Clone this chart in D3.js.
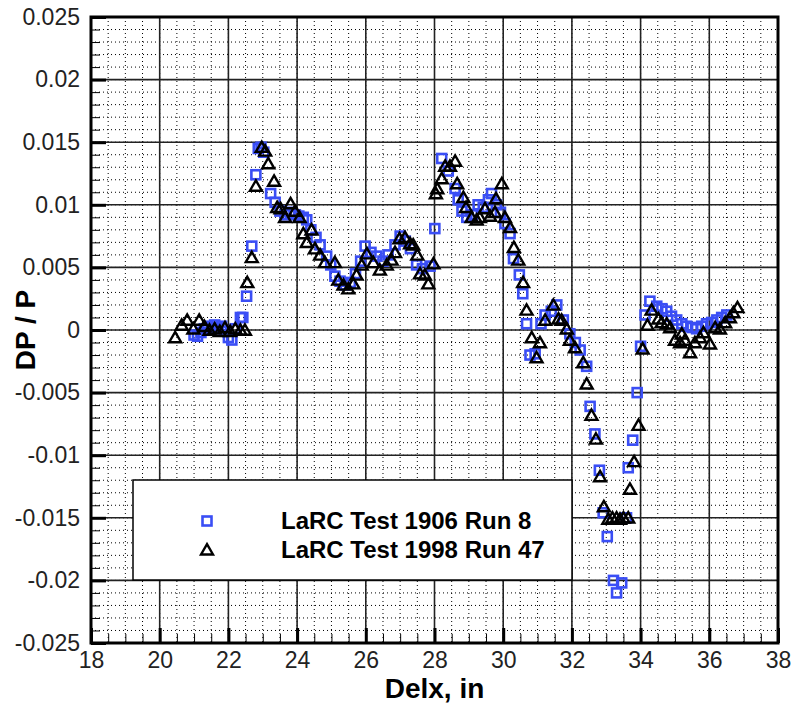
<!DOCTYPE html>
<meta charset="utf-8">
<style>
body { margin: 0; background: #fff; }
.tick text { font-family: "Liberation Sans", Arial, sans-serif; font-size: 23px; fill: #222; }
.axis path { display: none; }
.major line { stroke: #000; stroke-width: 3px; }
.minor line { stroke: #000; stroke-width: 1px; }
.title { font-family: "Liberation Sans", Arial, sans-serif; font-weight: bold; font-size: 28px; fill: #000; }
.legtext { font-family: "Liberation Sans", Arial, sans-serif; font-weight: bold; font-size: 24px; fill: #000; }
</style>
<body>
<script src="https://d3js.org/d3.v7.min.js"></script>
<script>

// LaRC Test 1906 Run 8 (blue squares)
var run8Delx = [21.00, 21.10, 21.20, 21.30, 21.40, 21.50, 21.60, 21.70, 21.80, 21.90, 22.00, 22.10, 22.20, 22.35, 22.42,
  22.53, 22.68, 22.80, 22.87, 22.95, 23.03, 23.23, 23.36, 23.50, 23.65, 23.80, 23.95, 24.05, 24.18, 24.28, 24.40,
  24.55, 24.67, 24.86, 24.98, 25.10, 25.25, 25.40, 25.55, 25.70, 25.85, 25.98, 26.15, 26.32, 26.50, 26.65, 26.85,
  27.00, 27.15, 27.30, 27.48, 27.65, 27.87, 28.01, 28.21, 28.40, 28.60, 28.69, 28.80, 28.94, 29.10, 29.27, 29.42,
  29.57, 29.66, 29.80, 29.92, 30.05, 30.20, 30.30, 30.47, 30.57, 30.68, 30.78, 30.93, 31.10, 31.22, 31.40, 31.56,
  31.75, 31.94, 32.10, 32.24, 32.43, 32.53, 32.67, 32.80, 32.91, 33.03, 33.21, 33.30, 33.45, 33.59, 33.64, 33.77,
  33.90, 34.00, 34.13, 34.27, 34.47, 34.62, 34.76, 34.90, 35.05, 35.20, 35.34, 35.50, 35.63, 35.78, 35.92, 36.07,
  36.22, 36.36, 36.51];
var run8DpP = [-0.0004, -0.0005, -0.0002, 0.0001, 0.0003, 0.0002, 0.0004, 0.0001, 0.0003, -0.0001, -0.0006, -0.0008, 0.0001, 0.0010, 0.0010,
  0.0027, 0.0067, 0.0124, 0.0145, 0.0146, 0.0142, 0.0109, 0.0102, 0.0095, 0.0092, 0.0094, 0.0092, 0.0091, 0.0090, 0.0088, 0.0080,
  0.0074, 0.0068, 0.0059, 0.0052, 0.0043, 0.0039, 0.0036, 0.0038, 0.0045, 0.0055, 0.0067, 0.0062, 0.0059, 0.0055, 0.0060, 0.0068,
  0.0075, 0.0071, 0.0065, 0.0052, 0.0049, 0.0051, 0.0081, 0.0137, 0.0127, 0.0113, 0.0104, 0.0095, 0.0090, 0.0092, 0.0100, 0.0098,
  0.0104, 0.0109, 0.0100, 0.0094, 0.0085, 0.0077, 0.0057, 0.0044, 0.0029, 0.0005, -0.0020, -0.0019, 0.0005, 0.0012, 0.0015, 0.0020,
  0.0008, -0.0003, -0.0010, -0.0016, -0.0029, -0.0061, -0.0083, -0.0112, -0.0146, -0.0165, -0.0200, -0.0210, -0.0202, -0.0150, -0.0110, -0.0088,
  -0.0050, -0.0013, 0.0012, 0.0023, 0.0019, 0.0017, 0.0015, 0.0011, 0.0008, 0.0005, 0.0003, 0.0002, 0.0001, 0.0003, 0.0005, 0.0006,
  0.0008, 0.0010, 0.0012];

// LaRC Test 1998 Run 47 (black triangles)
var run47Delx = [20.45, 20.64, 20.80, 20.98, 21.15, 21.30, 21.45, 21.60, 21.75, 21.90, 22.05, 22.20, 22.35, 22.48, 22.55,
  22.68, 22.80, 22.97, 23.07, 23.16, 23.33, 23.42, 23.52, 23.65, 23.81, 23.94, 24.07, 24.18, 24.28, 24.42, 24.52,
  24.67, 24.81, 25.10, 25.20, 25.35, 25.49, 25.64, 25.73, 25.88, 26.03, 26.22, 26.41, 26.61, 26.75, 26.85, 26.98,
  27.14, 27.29, 27.38, 27.50, 27.58, 27.72, 27.82, 27.97, 28.04, 28.08, 28.21, 28.31, 28.45, 28.60, 28.66, 28.84,
  28.92, 29.08, 29.23, 29.32, 29.47, 29.62, 29.76, 29.79, 29.96, 30.05, 30.20, 30.31, 30.44, 30.58, 30.68, 30.83,
  30.97, 31.07, 31.22, 31.46, 31.61, 31.70, 31.85, 31.94, 32.09, 32.33, 32.43, 32.57, 32.70, 32.82, 32.93, 33.06,
  33.18, 33.30, 33.40, 33.50, 33.64, 33.69, 33.81, 33.94, 34.06, 34.20, 34.32, 34.52, 34.61, 34.76, 34.86, 35.00,
  35.15, 35.20, 35.29, 35.44, 35.58, 35.73, 35.83, 36.02, 36.17, 36.31, 36.46, 36.60, 36.70, 36.82];
var run47DpP = [-0.0007, 0.0003, 0.0007, 0.0000, 0.0007, 0.0002, -0.0001, 0.0000, -0.0002, 0.0001, -0.0002, 0.0000, -0.0001, -0.0001, 0.0037,
  0.0057, 0.0114, 0.0145, 0.0142, 0.0132, 0.0118, 0.0097, 0.0096, 0.0089, 0.0100, 0.0094, 0.0089, 0.0076, 0.0069, 0.0079, 0.0064,
  0.0059, 0.0053, 0.0053, 0.0039, 0.0035, 0.0032, 0.0036, 0.0043, 0.0051, 0.0060, 0.0053, 0.0047, 0.0051, 0.0055, 0.0061, 0.0072,
  0.0073, 0.0068, 0.0067, 0.0059, 0.0044, 0.0043, 0.0036, 0.0052, 0.0108, 0.0112, 0.0120, 0.0130, 0.0130, 0.0134, 0.0116, 0.0105,
  0.0097, 0.0089, 0.0087, 0.0089, 0.0096, 0.0090, 0.0093, 0.0104, 0.0116, 0.0089, 0.0081, 0.0065, 0.0055, 0.0037, 0.0015, -0.0007,
  -0.0023, -0.0011, 0.0007, 0.0019, 0.0008, 0.0007, 0.0000, -0.0009, -0.0015, -0.0027, -0.0044, -0.0069, -0.0088, -0.0118, -0.0142, -0.0152,
  -0.0151, -0.0151, -0.0152, -0.0151, -0.0151, -0.0128, -0.0106, -0.0077, -0.0016, 0.0003, 0.0015, 0.0008, 0.0005, 0.0004, 0.0001, -0.0009,
  -0.0011, -0.0004, -0.0009, -0.0019, -0.0011, -0.0007, -0.0003, -0.0012, 0.0001, 0.0000, 0.0005, 0.0009, 0.0013, 0.0017];

var xTicks = [18, 20, 22, 24, 26, 28, 30, 32, 34, 36, 38];
var yTicks = [-0.025, -0.02, -0.015, -0.01, -0.005, 0, 0.005, 0.01, 0.015, 0.02, 0.025];
var legendLabels = ["LaRC Test 1906 Run 8", "LaRC Test 1998 Run 47"];

var blue = "#3a4ef5";

// plot box in page pixels
var plotL = 91, plotR = 778, plotT = 17, plotB = 643;

var svg = d3.select("body").append("svg")
    .attr("width", 792)
    .attr("height", 704);

var x = d3.scaleLinear().domain([18, 38]).range([plotL, plotR]);
var y = d3.scaleLinear().domain([-0.025, 0.025]).range([plotB, plotT]);

var xMinor = d3.range(18, 38.01, 0.5);
var yMinor = d3.range(-25, 25.1, 1).map(function(d) { return d / 1000; });

// dotted minor grid
svg.append("g").selectAll("line")
    .data(xMinor).enter().append("line")
    .attr("x1", function(d) { return x(d); }).attr("x2", function(d) { return x(d); })
    .attr("y1", plotT).attr("y2", plotB)
    .attr("stroke", "#000").attr("stroke-width", 1).attr("stroke-dasharray", "1,3");
svg.append("g").selectAll("line")
    .data(yMinor).enter().append("line")
    .attr("y1", function(d) { return y(d); }).attr("y2", function(d) { return y(d); })
    .attr("x1", plotL).attr("x2", plotR)
    .attr("stroke", "#000").attr("stroke-width", 1).attr("stroke-dasharray", "1,3");

// solid major grid
svg.append("g").selectAll("line")
    .data(xTicks).enter().append("line")
    .attr("x1", function(d) { return x(d); }).attr("x2", function(d) { return x(d); })
    .attr("y1", plotT).attr("y2", plotB)
    .attr("stroke", "#222").attr("stroke-width", 1.6);
svg.append("g").selectAll("line")
    .data(yTicks).enter().append("line")
    .attr("y1", function(d) { return y(d); }).attr("y2", function(d) { return y(d); })
    .attr("x1", plotL).attr("x2", plotR)
    .attr("stroke", "#222").attr("stroke-width", 1.6);

// legend box (drawn over grid)
svg.append("rect")
    .attr("x", 133).attr("y", 480).attr("width", 439).attr("height", 100)
    .attr("fill", "#fff").attr("stroke", "#000").attr("stroke-width", 1.5);

// axes: ticks point inward
svg.append("g").attr("class", "axis minor")
    .attr("transform", "translate(" + plotL + ",0)")
    .call(d3.axisLeft(y).tickValues(yMinor).tickSize(-9).tickFormat(""));
svg.append("g").attr("class", "axis major")
    .attr("transform", "translate(" + plotL + ",0)")
    .call(d3.axisLeft(y).tickValues(yTicks).tickSize(-15).tickPadding(11)
      .tickFormat(function(d) { return String(+d.toFixed(3)); }));

svg.append("g").attr("class", "axis minor")
    .attr("transform", "translate(0," + plotB + ")")
    .call(d3.axisBottom(x).tickValues(xMinor).tickSize(-9).tickFormat(""));
svg.append("g").attr("class", "axis major")
    .attr("transform", "translate(0," + plotB + ")")
    .call(d3.axisBottom(x).tickValues(xTicks).tickSize(-15).tickPadding(9).tickFormat(d3.format("d")));

// frame
svg.append("rect")
    .attr("x", plotL).attr("y", plotT).attr("width", plotR - plotL).attr("height", plotB - plotT)
    .attr("fill", "none").attr("stroke", "#000").attr("stroke-width", 3);

// Run 8 squares
svg.append("g").selectAll("rect")
    .data(run8Delx).enter().append("rect")
    .attr("x", function(d) { return x(d) - 4.5; })
    .attr("y", function(d, i) { return y(run8DpP[i]) - 4.5; })
    .attr("width", 9).attr("height", 9)
    .attr("fill", "none").attr("stroke", blue).attr("stroke-width", 2.6);

// Run 47 triangles
var tri = d3.symbol().type(d3.symbolTriangle).size(62);
svg.append("g").selectAll("path")
    .data(run47Delx).enter().append("path")
    .attr("d", tri)
    .attr("transform", function(d, i) { return "translate(" + x(d) + "," + y(run47DpP[i]) + ")"; })
    .attr("fill", "none").attr("stroke", "#000").attr("stroke-width", 2.4);

// legend entries
svg.append("rect")
    .attr("x", 202.5).attr("y", 516.5).attr("width", 9).attr("height", 9)
    .attr("fill", "none").attr("stroke", blue).attr("stroke-width", 2.6);
svg.append("path")
    .attr("d", tri)
    .attr("transform", "translate(207,551)")
    .attr("fill", "none").attr("stroke", "#000").attr("stroke-width", 2.4);
svg.selectAll(".legtext")
    .data(legendLabels).enter().append("text")
    .attr("class", "legtext")
    .attr("x", 281)
    .attr("y", function(d, i) { return 529 + i * 29; })
    .text(function(d) { return d; });

// axis titles
svg.append("text")
    .attr("class", "title")
    .attr("text-anchor", "middle")
    .attr("x", (plotL + plotR) / 2)
    .attr("y", 698)
    .text("Delx, in");

svg.append("text")
    .attr("class", "title")
    .attr("text-anchor", "middle")
    .attr("transform", "translate(35," + y(0) + ")rotate(-90)")
    .text("DP / P");

</script>
</body>
